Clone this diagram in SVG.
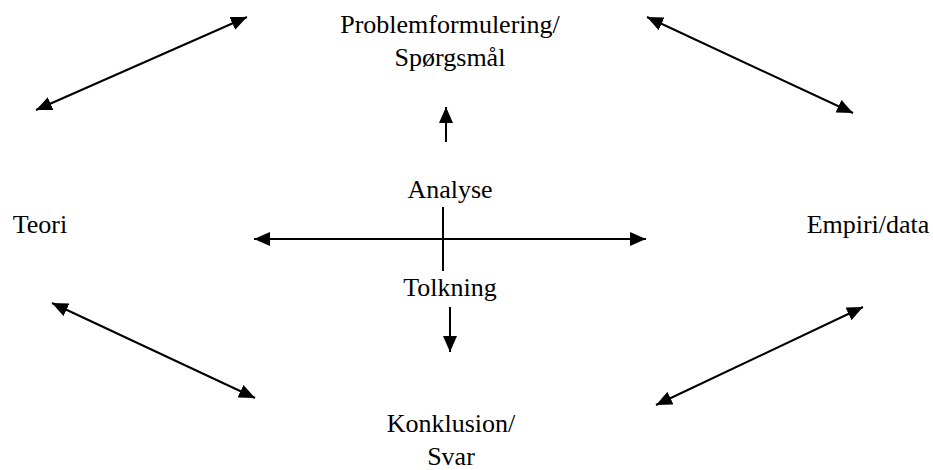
<svg xmlns="http://www.w3.org/2000/svg" width="933" height="470" viewBox="0 0 933 470">
<style>
text{font-family:"Liberation Serif","Times New Roman",serif;font-size:26px;fill:#000;text-anchor:middle}
.c line{stroke:#000;stroke-width:2}
</style>
<defs>
<marker id="ah" viewBox="0 0 16 14" refX="16" refY="7" markerWidth="16" markerHeight="14" markerUnits="userSpaceOnUse" orient="auto-start-reverse">
<path d="M0,0 L16,7 L0,14 Z" fill="#000"/>
</marker>
</defs>
<rect width="933" height="470" fill="#fff"/>
<g class="c" id="connectors">
<line x1="36" y1="110" x2="247" y2="17" marker-start="url(#ah)" marker-end="url(#ah)"/>
<line x1="647" y1="17" x2="853" y2="113" marker-start="url(#ah)" marker-end="url(#ah)"/>
<line x1="52" y1="303" x2="255" y2="398" marker-start="url(#ah)" marker-end="url(#ah)"/>
<line x1="656" y1="405" x2="863" y2="307" marker-start="url(#ah)" marker-end="url(#ah)"/>
<line x1="254" y1="239" x2="646" y2="239" marker-start="url(#ah)" marker-end="url(#ah)"/>
<line x1="443" y1="207" x2="443" y2="271"/>
<line x1="446" y1="142" x2="446" y2="107" marker-end="url(#ah)"/>
<line x1="450" y1="307" x2="450" y2="352" marker-end="url(#ah)"/>
</g>
<g id="problem"><text x="450" y="33">Problemformulering/</text><text x="450" y="66">Spørgsmål</text></g>
<g id="teori"><text x="40" y="233">Teori</text></g>
<g id="empiri"><text x="868" y="233">Empiri/data</text></g>
<g id="analyse"><text x="450" y="198">Analyse</text></g>
<g id="tolkning"><text x="450" y="296">Tolkning</text></g>
<g id="konklusion"><text x="451" y="432">Konklusion/</text><text x="451" y="465">Svar</text></g>
</svg>
